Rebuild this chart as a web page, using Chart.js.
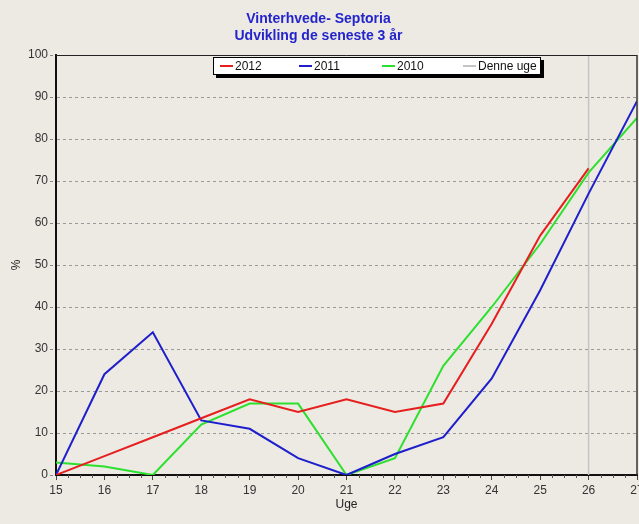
<!DOCTYPE html>
<html>
<head>
<meta charset="utf-8">
<script src="https://cdn.jsdelivr.net/npm/chart.js@4/dist/chart.umd.min.js"></script>
<style>
  html, body { margin: 0; padding: 0; background: #ECEAE3; }
  #wrap { position: relative; width: 639px; height: 524px; }
  #legend { position: absolute; left: 213px; top: 57px; width: 326px; height: 16px;
    background: #fff; border: 1px solid #000; box-shadow: 3px 3px 0 #000;
    font: 12px Arial, "Liberation Sans", sans-serif; color: #111; }
  .item { position: absolute; top: 0; height: 16px; line-height: 16px; white-space: nowrap; }
  .sw { position: absolute; top: 7px; width: 13px; height: 2px; }
  .tx { position: absolute; left: 15px; top: 0; }
</style>
</head>
<body>
<div id="wrap">
  <canvas id="c" width="639" height="524"></canvas>
  <div id="legend"></div>
</div>
<script>
const weeks = [15, 16, 17, 18, 19, 20, 21, 22, 23, 24, 25, 26, 27];
const s2012 = [0, 4.5, 9, 13.5, 18, 15, 18, 15, 17, 36, 57, 73];
const s2011 = [0, 24, 34, 13, 11, 4, 0, 5, 9, 23, 44, 67, 89];
const s2010 = [3, 2, 0, 12, 17, 17, 0, 4, 26, 40, 55, 72, 85];
const currentWeek = 26;
const titleLines = ["Vinterhvede- Septoria", "Udvikling de seneste 3 år"];
const seriesNames = ["2012", "2011", "2010", "Denne uge"];
const seriesColors = ["#E61E1E", "#1E1ECC", "#2EE02E", "#C4C4C4"];
const FONT = 'Arial, "Liberation Sans", sans-serif';

const bgPlugin = {
  id: 'bg',
  beforeDraw(chart) {
    const ctx = chart.ctx;
    ctx.save();
    ctx.fillStyle = '#ECEAE3';
    ctx.fillRect(0, 0, chart.width, chart.height);
    ctx.restore();
  },
  afterDraw(chart) {
    const ctx = chart.ctx, a = chart.chartArea, xs = chart.scales.x;
    ctx.save();
    ctx.strokeStyle = '#222';
    ctx.lineWidth = 1;
    ctx.beginPath();
    ctx.moveTo(a.left, a.top + 0.5); ctx.lineTo(a.right, a.top + 0.5);
    ctx.stroke();
    ctx.lineWidth = 1.5;
    ctx.strokeStyle = '#333';
    ctx.beginPath();
    ctx.moveTo(a.right, a.top); ctx.lineTo(a.right, a.bottom);
    ctx.stroke();
    ctx.strokeStyle = '#555';
    ctx.lineWidth = 1;
    for (let w = weeks[0]; w < weeks[weeks.length - 1]; w++) {
      for (let k = 1; k < 4; k++) {
        const px = Math.round(xs.getPixelForValue(w + k / 4)) + 0.5;
        ctx.beginPath();
        ctx.moveTo(px, a.bottom); ctx.lineTo(px, a.bottom + 3);
        ctx.stroke();
      }
    }
    ctx.restore();
  }
};

const datasets = [
  { label: seriesNames[0], data: s2012, borderColor: seriesColors[0] },
  { label: seriesNames[1], data: s2011, borderColor: seriesColors[1] },
  { label: seriesNames[2], data: s2010, borderColor: seriesColors[2] },
  { label: seriesNames[3], data: [{x: currentWeek, y: 0}, {x: currentWeek, y: 100}],
    borderColor: seriesColors[3], borderWidth: 1.5, order: 10 }
].map(d => Object.assign({ borderWidth: 2, pointRadius: 0, fill: false, tension: 0 }, d));

new Chart(document.getElementById('c'), {
  type: 'line',
  data: { labels: weeks, datasets },
  plugins: [bgPlugin],
  options: {
    responsive: false,
    animation: false,
    layout: { padding: { left: 0, right: 2, top: 0, bottom: 0 } },
    plugins: {
      legend: { display: false },
      tooltip: { enabled: false },
      title: {
        display: true,
        text: titleLines,
        color: '#2424CC',
        font: { family: FONT, size: 14, weight: 'bold', lineHeight: 1.2 },
        padding: { top: 10.6, bottom: 10.8 }
      }
    },
    scales: {
      x: {
        type: 'linear',
        min: 15, max: 27,
        ticks: { stepSize: 1, autoSkip: false, maxRotation: 0, padding: 3,
          color: '#333', font: { family: FONT, size: 12 } },
        grid: { drawOnChartArea: false, drawTicks: true, tickLength: 5, tickColor: '#444', tickWidth: 1 },
        border: { display: true, color: '#111', width: 2 },
        title: { display: true, text: 'Uge', color: '#222',
          font: { family: FONT, size: 12 },
          padding: { top: 0, bottom: 11.8 } },
        afterFit(s) { s.height = 49; s.paddingRight = 0; s.paddingLeft = 0; }
      },
      y: {
        min: 0, max: 100,
        ticks: { stepSize: 10, padding: 2, color: '#333',
          font: { family: FONT, size: 12 } },
        grid: { color: '#999', lineWidth: 1, drawTicks: true, tickLength: 6, tickColor: '#888',
          tickBorderDash: [3, 3] },
        border: { display: true, color: '#111', width: 2, dash: [3, 3] },
        title: { display: true, text: '%', color: '#222',
          font: { family: FONT, size: 12 },
          padding: { top: 9.8, bottom: 2 } },
        afterFit(s) { s.width = 56; }
      }
    }
  }
});

const legendEl = document.getElementById('legend');
const itemLeft = [6, 85, 168, 249];
seriesNames.forEach((n, i) => {
  const it = document.createElement('div');
  it.className = 'item';
  it.style.left = itemLeft[i] + 'px';
  const sw = document.createElement('div');
  sw.className = 'sw';
  sw.style.background = seriesColors[i];
  const tx = document.createElement('span');
  tx.className = 'tx';
  tx.textContent = n;
  it.appendChild(sw); it.appendChild(tx);
  legendEl.appendChild(it);
});
</script>
</body>
</html>
